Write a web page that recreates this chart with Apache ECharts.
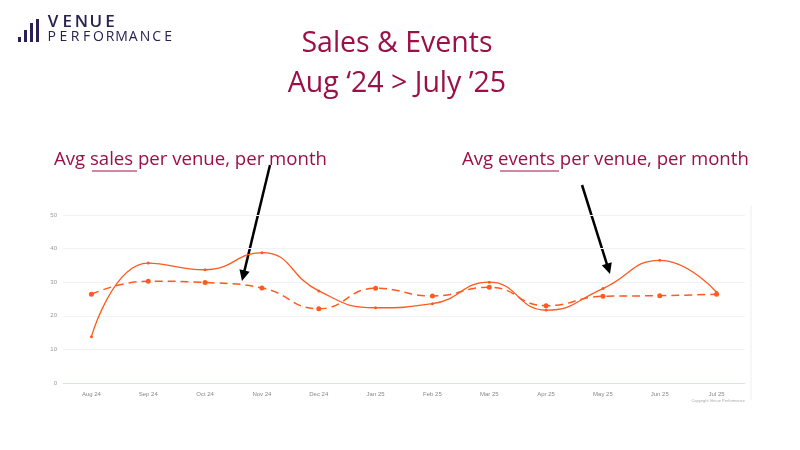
<!DOCTYPE html>
<html><head><meta charset="utf-8">
<script src="https://cdn.jsdelivr.net/npm/echarts@6/dist/echarts.min.js"></script>
<style>html,body{margin:0;background:#fff}#c{width:800px;height:450px}</style>
</head><body><div id="c"></div>
<script>
const categories=['Aug 24','Sep 24','Oct 24','Nov 24','Dec 24','Jan 25','Feb 25','Mar 25','Apr 25','May 25','Jun 25','Jul 25'];
const salesValues=[13.8,35.7,33.7,38.8,27.4,22.4,23.6,30,21.7,28.1,36.5,27];
const eventsValues=[26.4,30.3,29.9,28.3,22.1,28.2,25.9,28.5,23,25.8,26,26.4];
const yTicks=[0,10,20,30,40,50];
const red='#9b1049', orange='#ff5a1f', navy='#2a2152';
const chart=echarts.init(document.getElementById('c'));
function arrow(x1,y1,x2,y2){
  const a=Math.atan2(y2-y1,x2-x1),L=12,w=0.45;
  return [{type:'line',shape:{x1,y1,x2:x2-Math.cos(a)*6,y2:y2-Math.sin(a)*6},style:{stroke:'#000',lineWidth:2.5}},
  {type:'polygon',shape:{points:[[x2,y2],[x2-L*Math.cos(a-w),y2-L*Math.sin(a-w)],[x2-L*Math.cos(a+w),y2-L*Math.sin(a+w)]]},style:{fill:'#000'}}];
}
function spaced(str,x0,x1,y,font){
  const step=(x1-x0)/str.length;
  return str.split('').map((ch,i)=>({type:'text',x:x0+step*(i+0.5),y,style:{text:ch,fill:navy,font,align:'center',verticalAlign:'top'}}));
}
chart.setOption({
  animation:false,
  title:{text:'Sales & Events\nAug ‘24 > July ’25',left:392,top:19,textAlign:'center',
    textStyle:{color:red,fontSize:28.5,fontWeight:'normal',fontFamily:'Open Sans',lineHeight:40}},
  grid:{left:63,right:55,top:215,bottom:67},
  xAxis:{type:'category',data:categories,boundaryGap:true,
    axisLine:{lineStyle:{color:'#dde3ee'}},axisTick:{show:false},
    axisLabel:{color:'#888',fontSize:6,margin:8}},
  yAxis:{type:'value',min:0,max:50,interval:10,
    axisLabel:{color:'#999',fontSize:6,margin:6,formatter:v=>yTicks.includes(v)?v:''},
    splitLine:{lineStyle:{color:'#f0f2f5'}}},
  series:[
    {type:'line',data:salesValues,smooth:0.5,symbol:'circle',symbolSize:3,
      lineStyle:{color:orange,width:1.3},itemStyle:{color:orange}},
    {type:'line',data:eventsValues,smooth:0.5,symbol:'circle',symbolSize:5,
      lineStyle:{color:orange,width:1.5,type:[8,5]},itemStyle:{color:orange}}
  ],
  graphic:[
    {type:'rect',shape:{x:18,y:37,width:3,height:5},style:{fill:navy}},
    {type:'rect',shape:{x:24,y:30,width:3,height:12},style:{fill:navy}},
    {type:'rect',shape:{x:30,y:23,width:3,height:19},style:{fill:navy}},
    {type:'rect',shape:{x:36,y:19,width:3,height:23},style:{fill:navy}},
    ...spaced('VENUE',46,117,14,'600 17px "Open Sans"'),
    ...spaced('PERFORMANCE',46,174,30,'14px "Open Sans"'),
    {type:'text',left:54,top:150,style:{text:'Avg sales per venue, per month',fill:red,font:'18.6px "Open Sans"'}},
    {type:'line',shape:{x1:92,y1:171,x2:137,y2:171},style:{stroke:red,lineWidth:1}},
    {type:'text',left:462,top:150,style:{text:'Avg events per venue, per month',fill:red,font:'18.6px "Open Sans"'}},
    {type:'line',shape:{x1:500,y1:171,x2:559,y2:171},style:{stroke:red,lineWidth:1}},
    {type:'line',shape:{x1:751,y1:205,x2:751,y2:400},style:{stroke:'#eee',lineWidth:1}},
    {type:'text',right:55,top:399,style:{text:'Copyright Venue Performance',fill:'#aaa',font:'4px sans-serif'}},
    ...arrow(270,165,242,281),
    ...arrow(582,185,610,274)
  ]
});
</script></body></html>
